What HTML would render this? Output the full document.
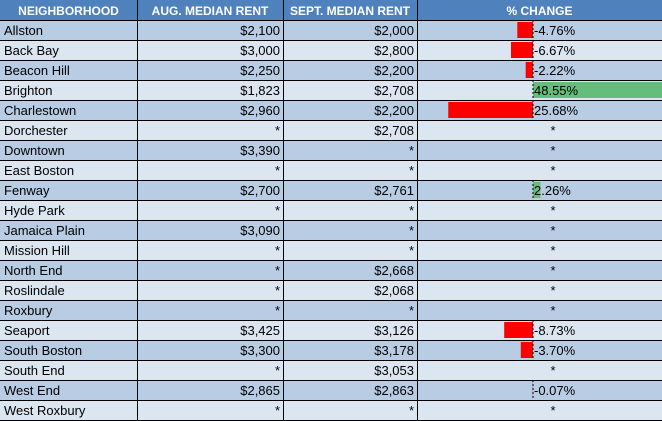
<!DOCTYPE html>
<html><head><meta charset="utf-8"><style>
body{margin:0;background:#fff;}
svg{display:block;font-family:"Liberation Sans",sans-serif;}
</style></head><body>
<svg id="t" width="662" height="421"></svg>
<script>
const neighborhoods=["Allston","Back Bay","Beacon Hill","Brighton","Charlestown","Dorchester","Downtown","East Boston","Fenway","Hyde Park","Jamaica Plain","Mission Hill","North End","Roslindale","Roxbury","Seaport","South Boston","South End","West End","West Roxbury"];
const augRent=["$2,100","$3,000","$2,250","$1,823","$2,960","*","$3,390","*","$2,700","*","$3,090","*","*","*","*","$3,425","$3,300","*","$2,865","*"];
const septRent=["$2,000","$2,800","$2,200","$2,708","$2,200","$2,708","*","*","$2,761","*","*","*","$2,668","$2,068","*","$3,126","$3,178","$3,053","$2,863","*"];
const pctChange=[-4.76,-6.67,-2.22,48.55,-25.68,null,null,null,2.26,null,null,null,null,null,null,-8.73,-3.70,null,-0.07,null];
const pctLabels=["-4.76%","-6.67%","-2.22%","48.55%","25.68%","*","*","*","2.26%","*","*","*","*","*","*","-8.73%","-3.70%","*","-0.07%","*"];
const headers=["NEIGHBORHOOD","AUG. MEDIAN RENT","SEPT. MEDIAN RENT","% CHANGE"];
const NS="http://www.w3.org/2000/svg",svg=document.getElementById('t');
const colX=[0,137,283,417,662],rowH=20,axisX=533,pxPer=3.3;
const xScale=v=>axisX+v*pxPer;
function el(tag,a,txt){const e=document.createElementNS(NS,tag);for(const k in a)e.setAttribute(k,a[k]);if(txt!=null)e.textContent=txt;svg.appendChild(e);return e;}
// header
let h=el('rect',{x:0,y:0,width:662,height:rowH,fill:'#4f81bd'});


headers.forEach((t,i)=>{const e=el('text',{x:(colX[i]+colX[i+1])/2,y:15,'text-anchor':'middle',fill:'#fff','font-weight':'bold','font-size':'12'},t);

});
neighborhoods.forEach((n,r)=>{
  const y=rowH*(r+1);
  const bg=el('rect',{x:0,y:y,width:662,height:rowH,fill:r%2==0?'#b8cce4':'#dce6f1'});
  
  
  const v=pctChange[r];
  if(v!=null){
    const x1=xScale(Math.min(0,v)),x2=Math.min(662,xScale(Math.max(0,v)));
    const b=el('rect',{x:x1,y:y+2,width:Math.max(0,x2-x1),height:rowH-4,fill:v<0?'#ff0000':'#63be7b'});
    
    
    const a=el('line',{x1:axisX,x2:axisX,y1:y,y2:y+rowH,stroke:'#000','stroke-dasharray':'2,2','stroke-width':1});
    
    
  }
  const t1=el('text',{x:4,y:y+15,'font-size':'13',fill:'#000'},n);
  
  
  const t2=el('text',{x:colX[2]-3,y:y+15,'font-size':'13','text-anchor':'end'},augRent[r]);
  
  
  const t3=el('text',{x:colX[3]-3,y:y+15,'font-size':'13','text-anchor':'end'},septRent[r]);
  
  
  const t4=v==null?el('text',{x:553,y:y+15,'font-size':'13','text-anchor':'middle'},pctLabels[r]):el('text',{x:axisX+1,y:y+15,'font-size':'13'},pctLabels[r]);
  
  
});
// grid lines
for(let r=1;r<=neighborhoods.length+1;r++){el('line',{x1:0,x2:662,y1:r*rowH+0.5,y2:r*rowH+0.5,stroke:'#000','stroke-width':1});}
colX.slice(1,4).forEach(x=>el('line',{x1:x+0.5,x2:x+0.5,y1:0,y2:421,stroke:'#000','stroke-width':1}));
</script>
</body></html>
